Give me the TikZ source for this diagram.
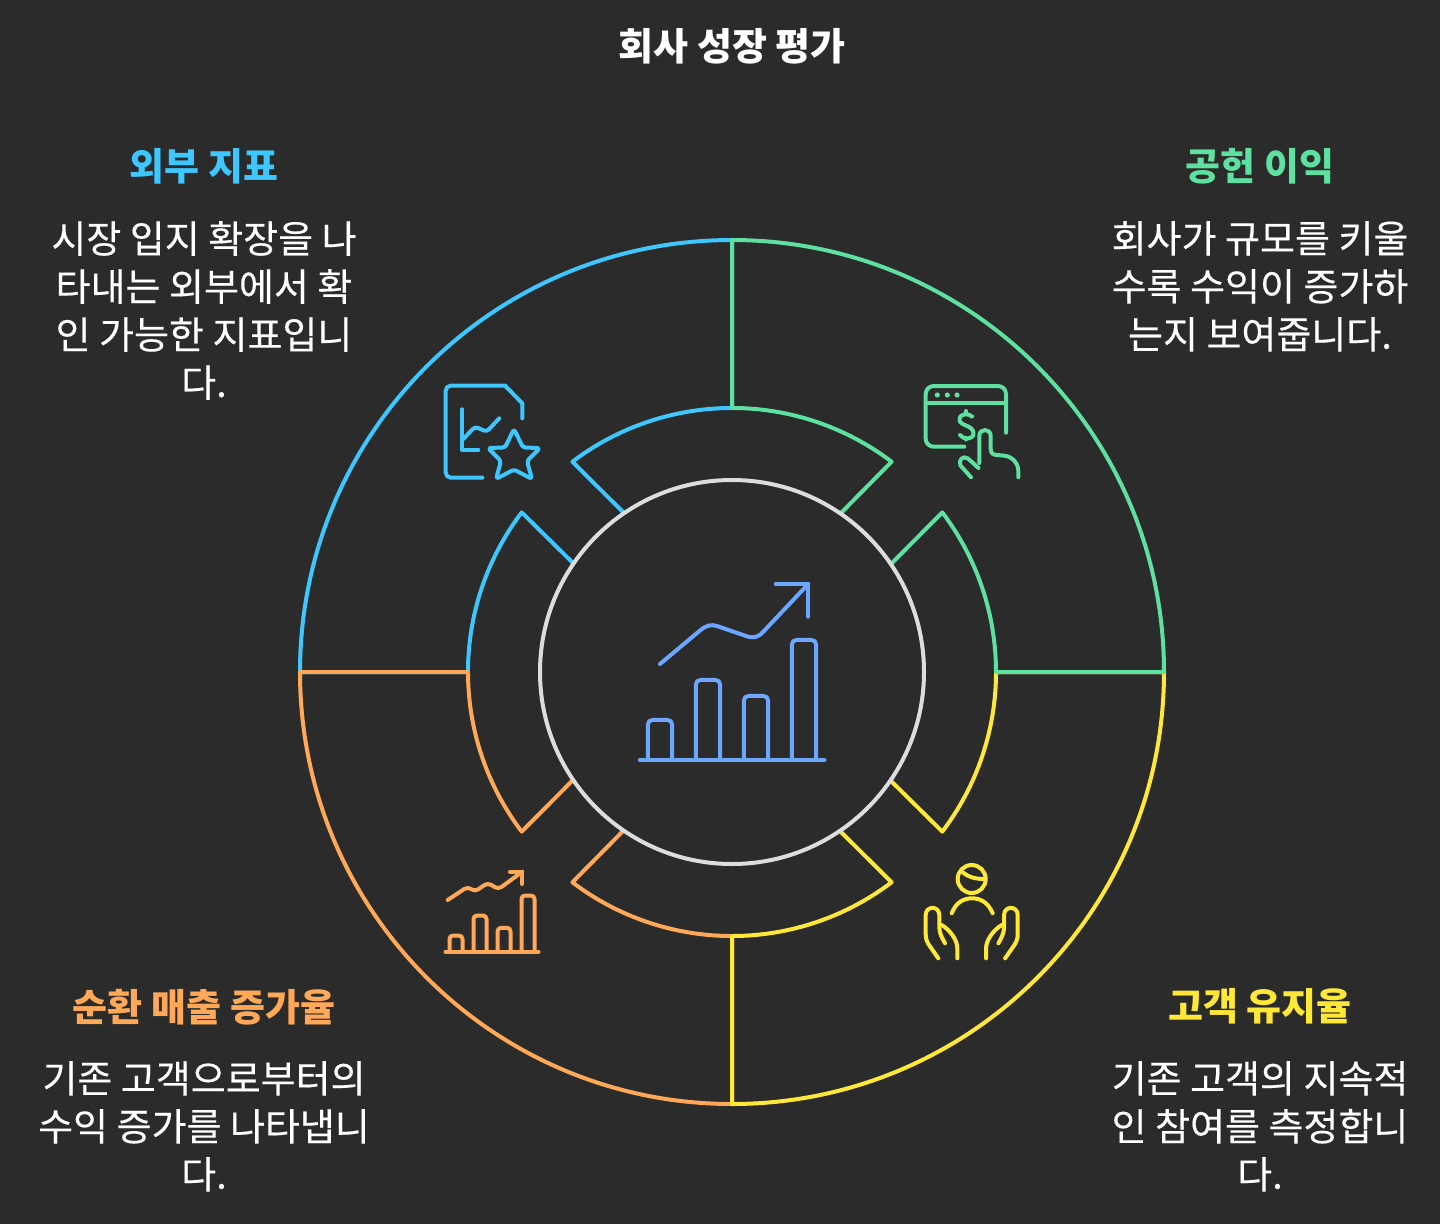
\documentclass[tikz,border=0pt]{standalone}
\usepackage{fontspec}
\setmainfont{Noto Sans CJK KR}
\newfontfamily\bodyfont[FakeBold=0.3]{Noto Sans CJK KR}
\definecolor{bgc}{HTML}{2B2B2B}
\definecolor{cblue}{HTML}{3EC6FF}
\definecolor{cgreen}{HTML}{5EE0A0}
\definecolor{cyellow}{HTML}{FFE838}
\definecolor{corange}{HTML}{FFA858}
\definecolor{ccenter}{HTML}{6BA6FF}
\definecolor{cring}{HTML}{DDDDDD}
\tikzset{
  ring/.style={line width=4pt,line join=round,line cap=round},
  ico/.style={line width=4pt,line join=round,line cap=round},
  body/.style={text=white,align=center,font=\bodyfont\fontsize{38}{48}\selectfont,inner sep=0pt},
  head/.style={align=center,font=\fontsize{38}{48}\selectfont\bfseries,inner sep=0pt},
}
\newcommand{\sectorpath}[2]{%
  \begin{scope}[shift={(732,672)},rotate=#1]
    \draw[ring,#2] (0,-432) arc[start angle=90,end angle=0,radius=432pt]
      -- (264,0) arc[start angle=0,end angle=37.2,radius=264pt]
      -- (159,-108);
    \draw[ring,#2] (109,-159) -- (159.6,-210.3) arc[start angle=52.8,end angle=90,radius=264pt]
      -- (0,-432);
  \end{scope}}
\begin{document}
\begin{tikzpicture}[x=1pt,y=-1pt]
\fill[bgc] (0,0) rectangle (1440,1224);
\useasboundingbox (0,0) rectangle (1440,1224);
% sectors
\sectorpath{90}{cblue}
\sectorpath{180}{corange}
\sectorpath{-90}{cyellow}
\sectorpath{0}{cgreen}
% centre ring
\draw[ring,cring] (732,672) circle[radius=192pt];
% centre icon
\begin{scope}[ring,ccenter]
  \draw (639.8,760) -- (824.5,760);
  \foreach \a/\b/\t in {647.8/672.2/719.8,695.8/720.2/679.8,743.8/768.2/695.8,791.8/816.2/639.8}{
    \draw[rounded corners=5pt] (\a,760) -- (\a,\t) -- (\b,\t) -- (\b,760);}
  \draw (660,664) -- (700,630.5) .. controls (706,625.5) and (711,624) .. (717,626)
     -- (746,636) .. controls (753,638.5) and (758,637.5) .. (763,632) -- (808.3,584);
  \draw (775.7,584) -- (808.3,584) -- (808.3,616.7);
\end{scope}
% blue icon
\begin{scope}[ico,cblue]
  \draw (522.3,418.3) -- (522.3,403.3) -- (505,385.7);
  \draw[rounded corners=5pt] (505,385.7) -- (445.7,385.7) -- (445.7,477.7) -- (482.3,477.7);
  \draw (462,409.3) -- (462,450) -- (478.3,450);
  \draw[rounded corners=3pt] (463.3,439) -- (475,426.7) -- (486.7,431.7) -- (499.3,418.3);
  \draw[rounded corners=2.8pt] (514,429) -- (523,447.5) -- (540,448) -- (527,461) -- (532,479) -- (514,469.5) -- (496,479) -- (501,461) -- (488,448) -- (505,447.5) -- cycle;
\end{scope}
% green icon
\begin{scope}[ico,cgreen]
  \draw[rounded corners=8pt] (1006,432.7) -- (1006,386) -- (925.7,386) -- (925.7,446.7) -- (964.3,446.7);
  \draw (925.7,403.3) -- (1006,403.3);
  \foreach \x in {937.3,947.3,957}{\fill (\x,395) circle[radius=2.6pt];}
  \draw (972,416.5) .. controls (969,413) and (959,413) .. (959.5,420)
     .. controls (960,426) and (973,425) .. (973.5,433)
     .. controls (974,440) and (963,440) .. (960,435);
  \draw (966,411) -- (966,414);
  \draw (966,438) -- (966,439.5);
  \draw (971,477.3) -- (960.5,465.5) .. controls (958,460) and (963,455) .. (968,458.5) -- (978.5,468);
  \draw (979.3,463) -- (979.3,436) .. controls (979.3,428) and (990.7,428) .. (990.7,436)
     -- (990.7,449) .. controls (990.7,453) and (993,455) .. (997,455)
     -- (1003,455.5) .. controls (1012,456) and (1018.3,463) .. (1018.3,471) -- (1018.3,477.3);
\end{scope}
% yellow icon
\begin{scope}[ico,cyellow]
  \draw (971.7,879) circle[radius=14pt];
  \draw (962.7,872.3) .. controls (968,877) and (975,879) .. (985,879);
  \draw (951.7,913.3) .. controls (956,902) and (964,898.3) .. (972,898.3) .. controls (980,898.3) and (988,902) .. (992.7,913.3);
  \foreach \m/\o in {1/0,-1/1943.4}{
   \begin{scope}[xshift=\o,xscale=\m]
    \draw (938.3,958.3) -- (929,945) .. controls (926.5,941) and (925.7,938) .. (925.7,934)
       -- (925.7,915) .. controls (925.7,905.5) and (939.3,905.5) .. (939.3,915)
       -- (939.3,927) .. controls (939.3,933) and (942,938) .. (945,943.3);
    \draw (941.7,925) .. controls (950,930) and (957.3,940) .. (957.3,948) -- (957.3,958.3);
   \end{scope}}
\end{scope}
% orange icon
\begin{scope}[ico,corange]
  \draw (445.5,951.7) -- (538.5,951.7);
  \foreach \a/\b/\t in {449.5/462.5/935.5,473.5/486.5/915.5,497.5/510.5/927.8,521.5/534.5/895.5}{
    \draw[rounded corners=3.5pt] (\a,951.7) -- (\a,\t) -- (\b,\t) -- (\b,951.7);}
  \draw[rounded corners=4pt] (447.7,900) -- (467.7,886.7) -- (475,891.7) -- (487.7,882.7) -- (498.3,889.3) -- (522.3,871.7);
  \draw (510,871.7) -- (522.3,871.7) -- (522.3,884);
\end{scope}
% text
\node[head,text=white] (title) at (732,46) {회사 성장 평가};
\node[head,text=cblue] (h1) at (204,166) {외부 지표};
\node[body,anchor=north] (t1) at (204,221) {시장 입지 확장을 나\\타내는 외부에서 확\\인 가능한 지표입니\\다.};
\node[head,text=cgreen] (h2) at (1260,166) {공헌 이익};
\node[body,anchor=north] (t2) at (1260,221) {회사가 규모를 키울\\수록 수익이 증가하\\는지 보여줍니다.};
\node[head,text=corange] (h3) at (204,1007) {순환 매출 증가율};
\node[body,anchor=north] (t3) at (204,1061) {기존 고객으로부터의\\수익 증가를 나타냅니\\다.};
\node[head,text=cyellow] (h4) at (1260,1006) {고객 유지율};
\node[body,anchor=north] (t4) at (1260,1061) {기존 고객의 지속적\\인 참여를 측정합니\\다.};
\end{tikzpicture}
\end{document}
